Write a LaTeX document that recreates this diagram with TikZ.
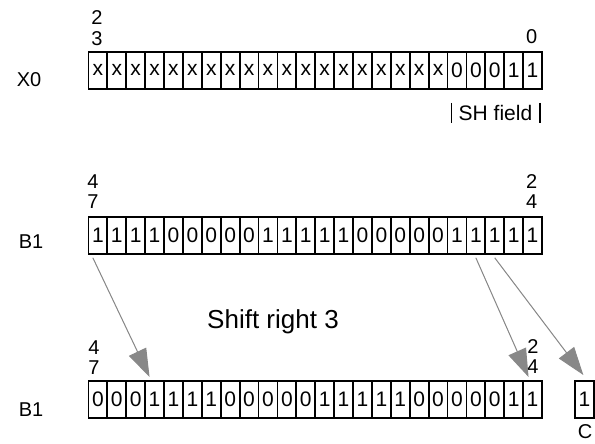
\documentclass[tikz,border=0pt]{standalone}
\usepackage{fontspec}
\setmainfont{Liberation Sans}
\usetikzlibrary{arrows.meta}
\definecolor{arrgray}{HTML}{888888}
\begin{document}
\begin{tikzpicture}[x=1pt,y=-1pt,
  cell/.style={draw=black, line width=1.8pt, minimum width=18.9pt, minimum height=37pt,
    inner sep=0pt, anchor=north west, font=\fontsize{21}{22}\selectfont},
  lbl/.style={font=\fontsize{20}{22}\selectfont, inner sep=0pt},
  idx/.style={font=\fontsize{20}{22}\selectfont, inner sep=0pt},
  bigtxt/.style={font=\fontsize{26}{28}\selectfont, inner sep=0pt},
  shtxt/.style={font=\fontsize{21}{22}\selectfont, inner sep=0pt},
  brk/.style={draw=black, line width=1.8pt},
  garrow/.style={draw=arrgray, fill=arrgray, line width=1pt,
    -{Triangle[length=28pt,width=19pt]}}]
\useasboundingbox (0,0) rectangle (595,444);

% Row labels
\node[lbl] (lx0) at (29,80) {X0};
\node[lbl] (lb1) at (31,242) {B1};
\node[lbl] (lb2) at (31,410) {B1};

% X0 register
\foreach \b [count=\i from 0] in {x,x,x,x,x,x,x,x,x,x,x,x,x,x,x,x,x,x,x,0,0,0,1,1}
  \node[cell] (xa\i) at ({87.5+\i*18.9},51) {\b};
\node[idx] (xi1) at (97,18) {2};
\node[idx] (xi2) at (97,39) {3};
\node[idx] (xi3) at (531.7,37) {0};

% SH field bracket
\coordinate (sh1a) at (451.5,103);
\coordinate (sh1b) at (451.5,123);
\coordinate (sh2a) at (540,103);
\coordinate (sh2b) at (540,123);
\draw[brk] (sh1a) -- (sh1b);
\draw[brk] (sh2a) -- (sh2b);
\node[shtxt] (sh) at (495.5,113) {SH field};

% B1 original
\foreach \b [count=\i from 0] in {1,1,1,1,0,0,0,0,0,1,1,1,1,1,0,0,0,0,0,1,1,1,1,1}
  \node[cell] (ta\i) at ({87.5+\i*18.9},216) {\b};
\node[idx] (ti1) at (93,182) {4};
\node[idx] (ti2) at (93,202) {7};
\node[idx] (ti3) at (531.7,182) {2};
\node[idx] (ti4) at (531.7,202) {4};

% Shift text
\node[bigtxt] (shift) at (273,322) {Shift right 3};

% B1 shifted
\foreach \b [count=\i from 0] in {0,0,0,1,1,1,1,0,0,0,0,0,1,1,1,1,1,0,0,0,0,0,1,1}
  \node[cell] (ba\i) at ({87.5+\i*18.9},380) {\b};
\node[idx] (bi1) at (94,348) {4};
\node[idx] (bi2) at (94,368) {7};
\node[idx] (bi3) at (533,347) {2};
\node[idx] (bi4) at (533,367) {4};

% Carry
\node[cell] (carry) at (574,380) {1};
\node[lbl] (cl) at (585,432) {C};

% Arrows
\draw[garrow] ([xshift=-5pt,yshift=-3pt]ta0.south) -- ([xshift=-5pt,yshift=3pt]ba3.north);
\draw[garrow] ([yshift=-3pt]ta20.south) -- ([xshift=-4pt,yshift=3pt]ba23.north);
\draw[garrow] ([yshift=-3pt]ta21.south) -- ([xshift=-1pt,yshift=5pt]carry.north);
\end{tikzpicture}
\end{document}
